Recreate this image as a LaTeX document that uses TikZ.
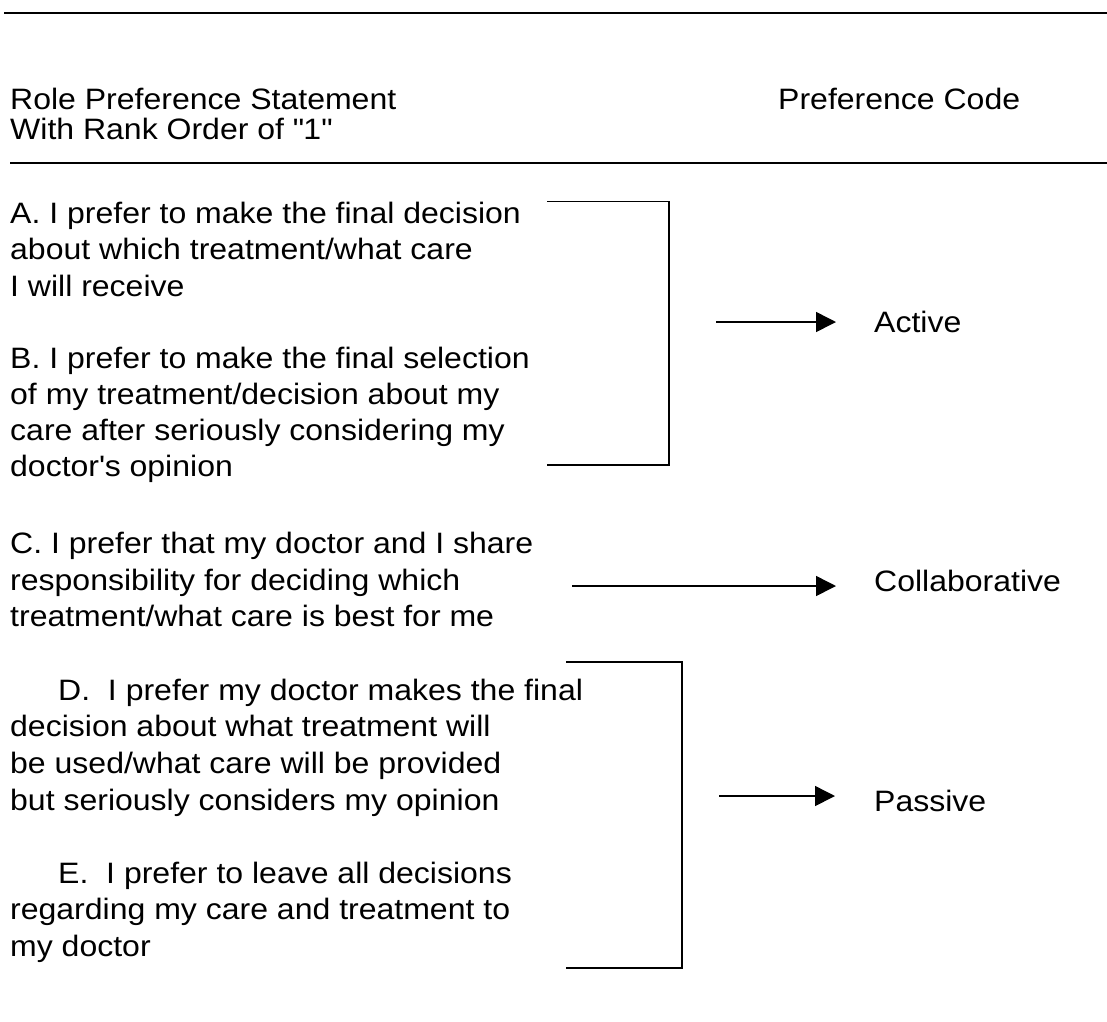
\documentclass[tikz,border=0pt]{standalone}
\usepackage{fontspec}
\setmainfont{Liberation Sans}[FakeStretch=1.085]
\usetikzlibrary{arrows.meta}
\begin{document}
\begin{tikzpicture}[x=1pt,y=-1pt,
  txt/.style={anchor=base west,inner sep=0pt,font=\fontsize{29.5}{35}\selectfont},
  rule/.style={line width=2.2pt},
  hrule/.style={line width=1.8pt},
  brk/.style={line width=1.8pt},
  arr/.style={line width=1.5pt,-{Triangle[length=20pt,width=20pt]}}]
\useasboundingbox (0,0) rectangle (1107,1021);
% rules
\coordinate (t1) at (4,13); \coordinate (t2) at (1107,13);
\draw[rule] (t1) -- (t2);
\coordinate (r1) at (10,163); \coordinate (r2) at (1107,163);
\draw[hrule] (r1) -- (r2);
% header
\node[txt] (h1) at (10,109) {Role Preference Statement};
\node[txt] (h2) at (10,139) {With Rank Order of \textquotedbl 1\textquotedbl};
\node[txt] (hc) at (778,109) {Preference Code};
% A
\node[txt] (a1) at (10,223) {A. I prefer to make the final decision};
\node[txt] (a2) at (10,259.5) {about which treatment/what care};
\node[txt] (a3) at (10,296) {I will receive};
% B
\node[txt] (b1) at (10,368) {B. I prefer to make the final selection};
\node[txt] (b2) at (10,404) {of my treatment/decision about my};
\node[txt] (b3) at (10,440) {care after seriously considering my};
\node[txt] (b4) at (10,476) {doctor\textquotesingle s opinion};
% C
\node[txt] (c1) at (10,553.5) {C. I prefer that my doctor and I share};
\node[txt] (c2) at (10,590) {responsibility for deciding which};
\node[txt] (c3) at (10,626.5) {treatment/what care is best for me};
% D
\node[txt] (d1) at (58,700) {D.\ \ I prefer my doctor makes the final};
\node[txt] (d2) at (10,736.5) {decision about what treatment will};
\node[txt] (d3) at (10,773) {be used/what care will be provided};
\node[txt] (d4) at (10,810) {but seriously considers my opinion};
% E
\node[txt] (e1) at (58,883) {E.\ \ I prefer to leave all decisions};
\node[txt] (e2) at (10,919.5) {regarding my care and treatment to};
\node[txt] (e3) at (10,956) {my doctor};
% codes
\node[txt] (act) at (874,332) {Active};
\node[txt] (col) at (874,591) {Collaborative};
\node[txt] (pas) at (874,811) {Passive};
% brackets
\coordinate (ba1) at (547,201.5); \coordinate (ba2) at (669,201.5);
\coordinate (ba3) at (669,465); \coordinate (ba4) at (547,465);
\draw[brk] (ba1) -- (ba2) -- (ba3) -- (ba4);
\coordinate (bp1) at (566,662); \coordinate (bp2) at (682,662);
\coordinate (bp3) at (682,968); \coordinate (bp4) at (566,968);
\draw[brk] (bp1) -- (bp2) -- (bp3) -- (bp4);
% arrows
\coordinate (as) at (716,322); \coordinate (ae) at (836,322);
\draw[arr] (as) -- (ae);
\coordinate (cs) at (572,586); \coordinate (ce) at (836,586);
\draw[arr] (cs) -- (ce);
\coordinate (ps) at (719,796); \coordinate (pe) at (835,796);
\draw[arr] (ps) -- (pe);
\end{tikzpicture}
\end{document}
